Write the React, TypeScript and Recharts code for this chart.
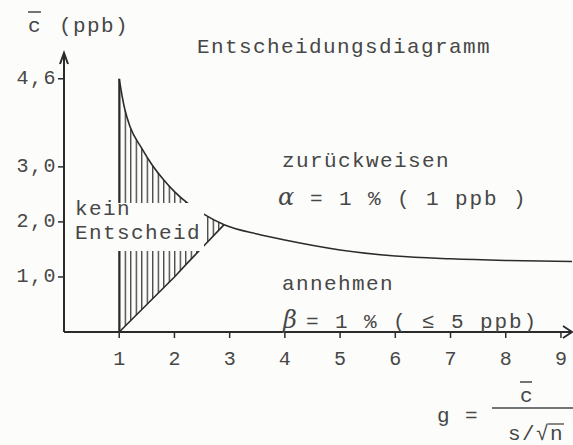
import React from 'react';
import { ComposedChart, Area, Line, XAxis, YAxis, ReferenceLine } from 'recharts';

document.body.style.margin = '0';

// g = c / (s/sqrt n) values where the curves were read
const gVals = [1, 1.05, 1.1, 1.2, 1.4, 1.6, 1.8, 2.0, 2.25, 2.5, 2.9, 3.5, 4, 5, 6, 7, 8, 9.2];
// upper boundary (zurückweisen)
const upperC = [4.6, 4.3, 4.05, 3.72, 3.35, 3.03, 2.77, 2.55, 2.33, 2.16, 1.95, 1.78, 1.67, 1.49, 1.38, 1.33, 1.3, 1.28];
// lower boundary (annehmen), only drawn up to the meeting point
const lowerC = [0, 0.05, 0.1, 0.2, 0.4, 0.6, 0.8, 1.0, 1.27, 1.53, 1.95];

const xTicks = [1, 2, 3, 4, 5, 6, 7, 8, 9];
const yTicks = [1, 2, 3, 4.6];
const yTickLabels = ['1,0', '2,0', '3,0', '4,6'];

const rows = gVals.map((g, i) => ({
    g,
    upper: upperC[i],
    lower: i < lowerC.length ? lowerC[i] : null,
    band: i < lowerC.length ? [lowerC[i], upperC[i]] : null,
}));

const INK = '#2b2b2b';
const TEXT = '#474747';
const FONT = '"Liberation Mono", "DejaVu Sans Mono", monospace';
const PAPER = '#fcfcfa';

const XTick = (props: any) => {
    const { x, y, payload } = props;
    return (
        <text x={x} y={y} dy={25} textAnchor="middle" fontFamily={FONT} fontSize={20} fill={TEXT}>
            {payload.value}
        </text>
    );
};

const YTick = (props: any) => {
    const { x, y, payload } = props;
    const label = yTickLabels[yTicks.indexOf(payload.value)];
    return (
        <text x={x + 1} y={y} dy={5} textAnchor="end" fontFamily={FONT} fontSize={20} letterSpacing={1.5} fill={TEXT}>
            {label}
        </text>
    );
};

const txt = { fontFamily: FONT, fontSize: 21, fill: TEXT, letterSpacing: 1.4 } as const;
const wide = { ...txt, letterSpacing: 1.9 } as const;

export default function App() {
    return (
        <div style={{ position: 'relative', width: 573, height: 445, background: PAPER }}>
            <ComposedChart width={573} height={445} data={rows} margin={{ top: 54, right: 1, bottom: 73, left: 0 }}>
                <XAxis
                    dataKey="g"
                    type="number"
                    domain={[0, 9.2]}
                    ticks={xTicks}
                    interval={0}
                    allowDataOverflow
                    height={40}
                    tickSize={6}
                    axisLine={{ stroke: INK, strokeWidth: 2 }}
                    tickLine={{ stroke: INK, strokeWidth: 1.5 }}
                    tick={<XTick />}
                />
                <YAxis
                    type="number"
                    domain={[0, 5.05]}
                    ticks={yTicks}
                    interval={0}
                    allowDataOverflow
                    width={64}
                    tickSize={6}
                    axisLine={{ stroke: INK, strokeWidth: 2 }}
                    tickLine={{ stroke: INK, strokeWidth: 1.5 }}
                    tick={<YTick />}
                />
                <Area
                    dataKey="band"
                    type="monotone"
                    stroke="none"
                    fill="url(#hatch)"
                    fillOpacity={1}
                    isAnimationActive={false}
                />
                <Line dataKey="upper" type="monotone" stroke={INK} strokeWidth={1.6} dot={false} isAnimationActive={false} />
                <Line dataKey="lower" type="linear" stroke={INK} strokeWidth={1.6} dot={false} isAnimationActive={false} />
                <ReferenceLine
                    segment={[{ x: gVals[0], y: 0 }, { x: gVals[0], y: upperC[0] }]}
                    stroke={INK}
                    strokeWidth={2}
                    ifOverflow="visible"
                />
            </ComposedChart>

            <svg width={573} height={445} style={{ position: 'absolute', left: 0, top: 0, pointerEvents: 'none' }}>
                <defs>
                    <pattern id="hatch" patternUnits="userSpaceOnUse" x={119.2} y={0} width={5.5} height={8}>
                        <line x1={0.6} y1={0} x2={0.6} y2={8} stroke={INK} strokeWidth={1.2} />
                    </pattern>
                </defs>

                {/* axis arrows */}
                <polyline points="60,64 64,53 68,64" fill="none" stroke={INK} strokeWidth={2} />
                <polyline points="563,326 572,332 563,338" fill="none" stroke={INK} strokeWidth={1.8} />

                {/* axis title */}
                <line x1={28} y1={12} x2={41} y2={12} stroke={TEXT} strokeWidth={1.5} />
                <text x={28} y={32} {...txt}>c</text>
                <text x={59} y={32} {...txt}>(ppb)</text>

                <text x={197} y={53} {...txt}>Entscheidungsdiagramm</text>

                <text x={282} y={167} {...txt}>zurückweisen</text>
                <text x={278} y={205} {...txt} fontStyle="italic" fontFamily="DejaVu Serif" fontSize={24}>α</text>
                <text x={310} y={205} {...wide}>= 1 % ( 1 ppb )</text>

                <rect x={67} y={203} width={137} height={48} fill={PAPER} />
                <text x={75} y={215} {...txt}>kein</text>
                <text x={75} y={239} {...txt}>Entscheid</text>

                <text x={282} y={290} {...txt}>annehmen</text>
                <text x={283} y={328} {...txt} fontStyle="italic" fontFamily="DejaVu Serif" fontSize={24}>β</text>
                <text x={306} y={328} {...wide}>= 1 % ( ≤ 5 ppb)</text>

                {/* g = c / (s / sqrt n) */}
                <text x={437} y={422} {...txt}>g</text>
                <text x={465} y={422} {...txt}>=</text>
                <line x1={492} y1={408} x2={573} y2={408} stroke={TEXT} strokeWidth={1.3} />
                <line x1={520} y1={382} x2={532} y2={382} stroke={TEXT} strokeWidth={1.5} />
                <text x={520} y={402} {...txt}>c</text>
                <text x={508} y={440} {...txt}>s/√n</text>
                <line x1={548} y1={424} x2={564} y2={424} stroke={TEXT} strokeWidth={1.3} />
            </svg>
        </div>
    );
}
